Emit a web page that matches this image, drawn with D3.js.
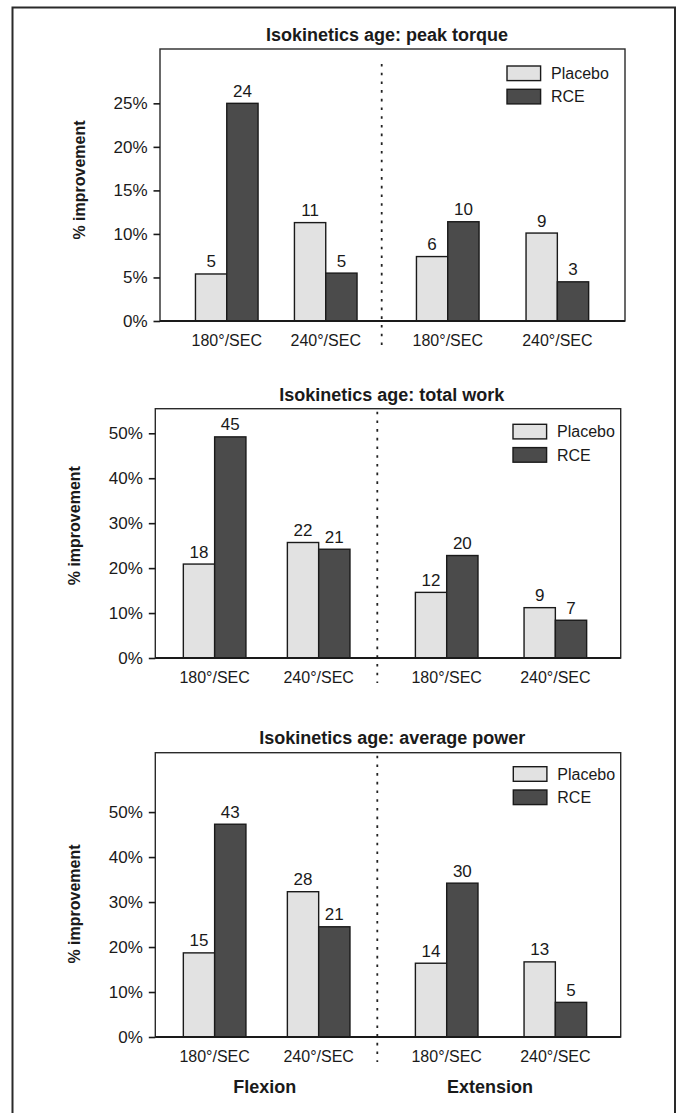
<!DOCTYPE html>
<html><head><meta charset="utf-8">
<script src="https://cdn.jsdelivr.net/npm/d3@7"></script>
<style>
body{margin:0;background:#fff}
svg{display:block}
text{font-family:"Liberation Sans",Arial,sans-serif;fill:#1a1a1a}
</style>
</head><body>
<svg id="chart" width="680" height="1113"></svg>
<script>
// ---------- DATA ----------
const sections = ["Flexion", "Extension"];
const categorySection = ["Flexion", "Flexion", "Extension", "Extension"];
const categories = ["180°/SEC", "240°/SEC", "180°/SEC", "240°/SEC"];
const seriesNames = ["Placebo", "RCE"];
const yAxisTitle = "% improvement";

const panelTitles = [
  "Isokinetics age: peak torque",
  "Isokinetics age: total work",
  "Isokinetics age: average power"
];

// peak torque
const peakPlacebo = [5.4, 11.3, 7.4, 10.1];
const peakRCE = [25.0, 5.5, 11.4, 4.5];
const peakPlaceboLabels = ["5", "11", "6", "9"];
const peakRCELabels = ["24", "5", "10", "3"];
const peakTicks = [0, 5, 10, 15, 20, 25];

// total work
const workPlacebo = [20.9, 25.7, 14.6, 11.2];
const workRCE = [49.2, 24.2, 22.8, 8.4];
const workPlaceboLabels = ["18", "22", "12", "9"];
const workRCELabels = ["45", "21", "20", "7"];
const workTicks = [0, 10, 20, 30, 40, 50];

// average power
const powerPlacebo = [18.7, 32.3, 16.4, 16.7];
const powerRCE = [47.3, 24.5, 34.2, 7.7];
const powerPlaceboLabels = ["15", "28", "14", "13"];
const powerRCELabels = ["43", "21", "30", "5"];
const powerTicks = [0, 10, 20, 30, 40, 50];

// ---------- LAYOUT ----------
const layouts = [
  {left:160, right:625, top:49, bottom:321, yMax:31.24, divider:381.7,
   flex:[0.62,0.544], ext:[0.61,0.494], titleX:387, titleY:35,
   legendX:507, legendY:66, yTitleY:180, dividerStart:15},
  {left:155.3, right:620.7, top:408.7, bottom:658, yMax:55.47, divider:377.3,
   flex:[0.567,0.503], ext:[0.62,0.515], titleX:391.7, titleY:394.3,
   legendX:513, legendY:424.3, yTitleY:525.7, dividerStart:3},
  {left:155.3, right:620.7, top:752.7, bottom:1037, yMax:63.2, divider:377.3,
   flex:[0.567,0.503], ext:[0.62,0.515], titleX:392.3, titleY:737.7,
   legendX:513.3, legendY:766.7, yTitleY:904, dividerStart:3}
];

const panels = [
  {title: panelTitles[0], values: [peakPlacebo, peakRCE], labels: [peakPlaceboLabels, peakRCELabels], ticks: peakTicks},
  {title: panelTitles[1], values: [workPlacebo, workRCE], labels: [workPlaceboLabels, workRCELabels], ticks: workTicks},
  {title: panelTitles[2], values: [powerPlacebo, powerRCE], labels: [powerPlaceboLabels, powerRCELabels], ticks: powerTicks}
];

const colors = d3.scaleOrdinal(seriesNames, ["#e2e2e2", "#4b4b4b"]);
const barHalf = 31.3;
const svg = d3.select("#chart");

// outer frame (open at bottom)
svg.append("path")
  .attr("d", d3.line()([[12.5, 1113], [12.5, 7.5], [675, 7.5], [675, 1113]]))
  .attr("fill", "none").attr("stroke", "#2a2a2a").attr("stroke-width", 2);

panels.forEach((panel, pi) => {
  const L = layouts[pi];
  const g = svg.append("g");

  const y = d3.scaleLinear().domain([0, L.yMax]).range([L.bottom, L.top]);
  const sectionRange = d3.scaleOrdinal(sections, [[L.left, L.divider], [L.divider, L.right]]);
  const sectionPad = d3.scaleOrdinal(sections, [L.flex, L.ext]);
  const inner = {};
  sections.forEach(s => {
    inner[s] = d3.scalePoint()
      .domain(["180°/SEC", "240°/SEC"])
      .range(sectionRange(s))
      .padding(sectionPad(s)[0])
      .align(sectionPad(s)[1]);
  });
  const cx = i => inner[categorySection[i]](categories[i]);
  const xSeries = d3.scaleBand().domain(seriesNames).range([-barHalf, barHalf]).padding(0);

  // title
  g.append("text")
    .attr("x", L.titleX).attr("y", L.titleY).attr("dy", "0.36em")
    .attr("text-anchor", "middle")
    .style("font-weight", "bold").style("font-size", "18px")
    .text(panel.title);

  // plot box
  g.append("rect")
    .attr("x", L.left).attr("y", L.top)
    .attr("width", L.right - L.left).attr("height", L.bottom - L.top)
    .attr("fill", "none").attr("stroke", "#2a2a2a").attr("stroke-width", 1.4);

  // divider
  g.append("line")
    .attr("x1", L.divider).attr("x2", L.divider)
    .attr("y1", L.top + L.dividerStart).attr("y2", L.bottom + 25)
    .attr("stroke", "#222").attr("stroke-width", 1.8)
    .attr("stroke-dasharray", "2.6,6.1");

  // bars
  seriesNames.forEach((s, si) => {
    g.selectAll(null).data(panel.values[si]).join("rect")
      .attr("x", (d, i) => cx(i) + xSeries(s))
      .attr("y", d => y(d))
      .attr("width", xSeries.bandwidth())
      .attr("height", d => y(0) - y(d))
      .attr("fill", colors(s))
      .attr("stroke", "#1a1a1a").attr("stroke-width", 1.4);

    g.selectAll(null).data(panel.labels[si]).join("text")
      .attr("x", (d, i) => cx(i) + xSeries(s) + xSeries.bandwidth() / 2)
      .attr("y", (d, i) => y(panel.values[si][i]) - 6.5)
      .attr("text-anchor", "middle")
      .style("font-size", "17px")
      .text(d => d);
  });

  // y axis
  const yAxis = d3.axisLeft(y).tickValues(panel.ticks)
    .tickFormat(d => d + "%").tickSize(6.5).tickPadding(6);
  const ya = g.append("g").attr("transform", `translate(${L.left},0)`).call(yAxis);
  ya.select(".domain").remove();
  ya.selectAll(".tick line").attr("stroke", "#1a1a1a").attr("stroke-width", 1.6);
  ya.selectAll(".tick text").style("font-size", "17px").attr("fill", "#1a1a1a")
    .style("font-family", "'Liberation Sans', Arial, sans-serif");

  // x baseline
  g.append("line")
    .attr("x1", L.left).attr("x2", L.right)
    .attr("y1", y(0)).attr("y2", y(0))
    .attr("stroke", "#1a1a1a").attr("stroke-width", 1.8);

  // x category labels
  g.selectAll(null).data(categories).join("text")
    .attr("x", (d, i) => cx(i))
    .attr("y", L.bottom + 19.5).attr("dy", "0.35em")
    .attr("text-anchor", "middle")
    .style("font-size", "16px")
    .text(d => d);

  // y title
  g.append("text")
    .attr("transform", `translate(${L.left - 81},${L.yTitleY}) rotate(-90)`)
    .attr("dy", "0.35em")
    .attr("text-anchor", "middle")
    .style("font-weight", "bold").style("font-size", "16px")
    .text(yAxisTitle);

  // legend
  const lg = g.append("g").attr("transform", `translate(${L.legendX},${L.legendY})`);
  seriesNames.forEach((s, si) => {
    lg.append("rect")
      .attr("x", 0).attr("y", si * 23.3)
      .attr("width", 33.6).attr("height", 14.6)
      .attr("fill", colors(s)).attr("stroke", "#1a1a1a").attr("stroke-width", 1.4);
    lg.append("text")
      .attr("x", 44).attr("y", si * 23.3 + 7.3).attr("dy", "0.36em")
      .style("font-size", "16px")
      .text(s);
  });

  // section labels on the last panel
  if (pi === panels.length - 1) {
    const sectionLabelDx = d3.scaleOrdinal(sections, [-2, -11]);
    sections.forEach(s => {
      const xs = inner[s].domain().map(inner[s]);
      g.append("text")
        .attr("x", d3.mean(xs) + sectionLabelDx(s))
        .attr("y", L.bottom + 49.7).attr("dy", "0.36em")
        .attr("text-anchor", "middle")
        .style("font-weight", "bold").style("font-size", "18px")
        .text(s);
    });
  }
});
</script>
</body></html>
